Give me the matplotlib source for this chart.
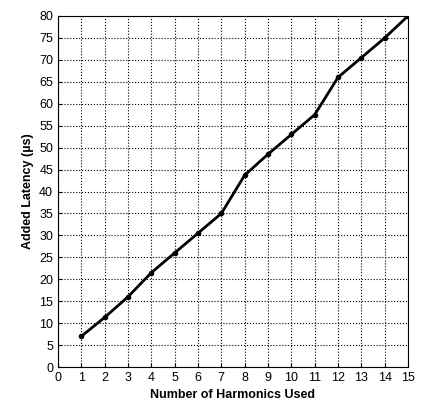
import matplotlib
matplotlib.use("Agg")
import matplotlib.pyplot as plt

plt.rcParams['font.family'] = ['Liberation Sans', 'DejaVu Sans']

harmonics = [1, 2, 3, 4, 5, 6, 7, 8, 9, 10, 11, 12, 13, 14, 15]
latency = [7, 11.3, 16, 21.5, 26, 30.5, 35, 43.7, 48.5, 53, 57.5, 66, 70.5, 75, 80]

fig = plt.figure(figsize=(4.21, 4.16), dpi=100)
ax = fig.add_axes([58 / 421, 49 / 416, 350 / 421, 351 / 416])

ax.plot(harmonics, latency, color="black", linewidth=2, marker="o", markersize=3)

ax.set_xlim(0, 15)
ax.set_ylim(0, 80)
ax.set_xticks(range(0, 16))
ax.set_yticks(range(0, 81, 5))
ax.grid(True, linestyle=":", color="black", linewidth=0.8)
ax.tick_params(labelsize=9, direction="in", length=3)

ax.set_xlabel("Number of Harmonics Used", fontsize=9, fontweight="bold")
ax.set_ylabel("Added Latency (\u00b5s)", fontsize=9, fontweight="bold")

fig.savefig("out.png", dpi=100)
